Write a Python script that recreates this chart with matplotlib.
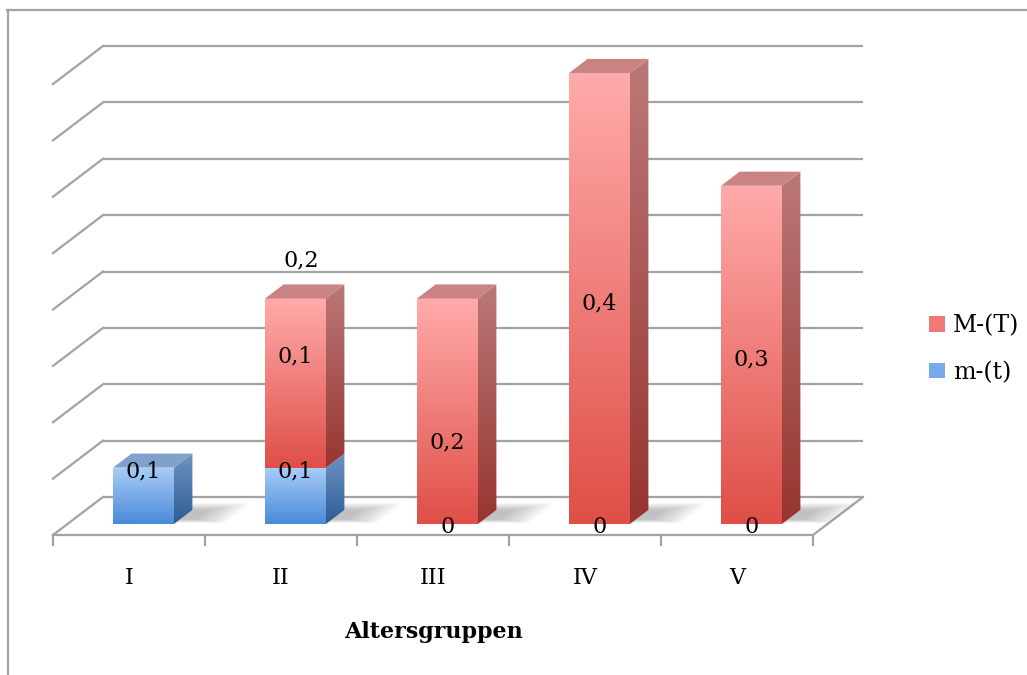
import numpy as np
import matplotlib
matplotlib.use('Agg')
import matplotlib.pyplot as plt
from matplotlib.patches import Polygon, Patch
from matplotlib.colors import LinearSegmentedColormap
from matplotlib.lines import Line2D

# Data
categories = ['I', 'II', 'III', 'IV', 'V']
m_t = [0.05, 0.05, 0.0, 0.0, 0.0]      # m-(t), blue (bottom)
M_T = [0.0, 0.15, 0.2, 0.4, 0.3]       # M-(T), red (top)
m_t_labels = ['0,1', '0,1', '0', '0', '0']
M_T_labels = ['', '0,1', '0,2', '0,4', '0,3']
top_labels = ['', '0,2', '', '', '']
series_names = ['M-(T)', 'm-(t)']

# pixel scale of the chart plane
SX, SY = 152.0, 1127.5          # px per category, px per value unit
DX, DY = 50 / SX, 38 / SY       # full floor depth offset in data units
Z0, Z1 = 0.29, 0.66             # bar depth span
W = 0.40                        # bar width
GRID = '#a3a3a3'

# label nudges in px (Excel 3D label placement)
nudge_blue = [24, 24, -3, -3, -3]
nudge_red = [0, 27, -31, -5, -5]

fig = plt.figure(figsize=(10.27, 6.75), dpi=100)
ax = fig.add_axes([0, 0, 1, 1])
ax.axis('off')


def P(x, y, z):
    return (x + z * DX, y + z * DY)


def grad_poly(verts, c_top, c_bot, zorder):
    verts = np.array(verts)
    cmap = LinearSegmentedColormap.from_list('g', [c_bot, c_top])
    g = np.linspace(0, 1, 128).reshape(-1, 1)
    x0, x1 = verts[:, 0].min(), verts[:, 0].max()
    y0, y1 = verts[:, 1].min(), verts[:, 1].max()
    im = ax.imshow(g, cmap=cmap, origin='lower', extent=[x0, x1, y0, y1],
                   aspect='auto', zorder=zorder, interpolation='bilinear')
    poly = Polygon(verts, closed=True, facecolor='none', edgecolor='none', zorder=zorder)
    ax.add_patch(poly)
    im.set_clip_path(poly)


def draw_segment(c, b, t, cols, zorder):
    front_top, front_bot, side_top, side_bot, top_col = cols
    xl, xr = c - W / 2, c + W / 2
    front = [P(xl, b, Z0), P(xr, b, Z0), P(xr, t, Z0), P(xl, t, Z0)]
    side = [P(xr, b, Z0), P(xr, b, Z1), P(xr, t, Z1), P(xr, t, Z0)]
    top = [P(xl, t, Z0), P(xr, t, Z0), P(xr, t, Z1), P(xl, t, Z1)]
    grad_poly(side, side_top, side_bot, zorder)
    grad_poly(front, front_top, front_bot, zorder + 0.1)
    ax.add_patch(Polygon(top, closed=True, facecolor=top_col, edgecolor='none', zorder=zorder + 0.2))


blue_cols = ('#a9cdf8', '#4a8ad8', '#6f93c2', '#2d5c96', '#7fa1cc')
red_cols = ('#ffabab', '#df4f47', '#bb7878', '#973530', '#c98383')

n = len(categories)
x = np.arange(n)

# back wall gridlines and left wall diagonals
for k in range(9):
    v = k * 0.05
    xa, ya = P(-0.5, v, 1)
    xb, yb = P(n - 0.5, v, 1)
    ax.plot([xa, xb], [ya, yb], color=GRID, lw=1.6, zorder=1, solid_capstyle='butt')
    xc, yc = P(-0.5, v, 0)
    ax.plot([xc, xa], [yc, ya], color=GRID, lw=1.6, zorder=1)

# floor front and right edges + ticks
ax.plot([-0.5, n - 0.5], [0, 0], color=GRID, lw=1.6, zorder=1)
xr1, yr1 = P(n - 0.5, 0, 1)
ax.plot([n - 0.5, xr1], [0, yr1], color=GRID, lw=1.6, zorder=1)
for t in np.arange(-0.5, n, 1.0):
    ax.plot([t, t], [0, -10 / SY], color=GRID, lw=1.6, zorder=1)

# soft shadows on the floor
for i in range(n):
    total = m_t[i] + M_T[i]
    if total <= 0:
        continue
    for s in range(10):
        e = s * 0.02
        sh = [P(x[i] - W / 2 + 0.05 + e, 0, Z0 + 0.03 + e * 0.5),
              P(x[i] + W / 2 + 0.32 - e * 1.2, 0, Z0 + 0.03 + e * 0.5),
              P(x[i] + W / 2 + 0.32 - e * 1.2, 0, Z1 + 0.18 - e),
              P(x[i] - W / 2 + 0.05 + e, 0, Z1 + 0.18 - e)]
        ax.add_patch(Polygon(sh, closed=True, facecolor='#707070', alpha=0.05,
                             edgecolor='none', zorder=1.5))

# bars
for i in range(n):
    if m_t[i] > 0:
        draw_segment(x[i], 0, m_t[i], blue_cols, 2 + i)
    if M_T[i] > 0:
        draw_segment(x[i], m_t[i], m_t[i] + M_T[i], red_cols, 2.5 + i)

# data labels
font = dict(family='DejaVu Serif', fontsize=16, color='black')
for i in range(n):
    cx = x[i] + Z0 * DX
    if m_t_labels[i]:
        cy = Z0 * DY + m_t[i] / 2 + nudge_blue[i] / SY
        if m_t[i] == 0:
            cy = Z0 * DY + nudge_blue[i] / SY
        ax.text(cx, cy, m_t_labels[i], ha='center', va='center', zorder=20, **font)
    if M_T_labels[i]:
        cy = Z0 * DY + m_t[i] + M_T[i] / 2 + nudge_red[i] / SY
        ax.text(cx, cy, M_T_labels[i], ha='center', va='center', zorder=20, **font)
    if top_labels[i]:
        cy = Z0 * DY + m_t[i] + M_T[i] + 38 / SY
        ax.text(cx + 6 / SX, cy, top_labels[i], ha='center', va='center', zorder=20, **font)

# category labels and axis title
for i in range(n):
    ax.text(x[i], -43 / SY, categories[i], ha='center', va='center', **font)
ax.text(2.0, -97 / SY, 'Altersgruppen', ha='center', va='center',
        family='DejaVu Serif', fontsize=16, fontweight='bold')

# legend
handles = [Patch(facecolor='#ef7a76', edgecolor='none'),
           Patch(facecolor='#77aae8', edgecolor='none')]
fig.legend(handles, series_names, loc='center left', bbox_to_anchor=(908 / 1027, 1 - 349 / 675),
           frameon=False, prop={'family': 'DejaVu Serif', 'size': 17},
           handlelength=0.65, handleheight=0.65, handletextpad=0.35, labelspacing=1.0)

# limits (front floor edge left corner at px 53, y=0 at px 535)
ax.set_xlim(-0.5 - 53 / SX, -0.5 + (1027 - 53) / SX)
ax.set_ylim(-(675 - 535) / SY, 535 / SY)

# chart border (top and left)
fig.add_artist(Line2D([7 / 1027, 1], [1 - 10 / 675, 1 - 10 / 675], color=GRID, lw=1.6))
fig.add_artist(Line2D([8 / 1027, 8 / 1027], [0, 1 - 10 / 675], color=GRID, lw=1.6))

fig.savefig('out.png', dpi=100)
